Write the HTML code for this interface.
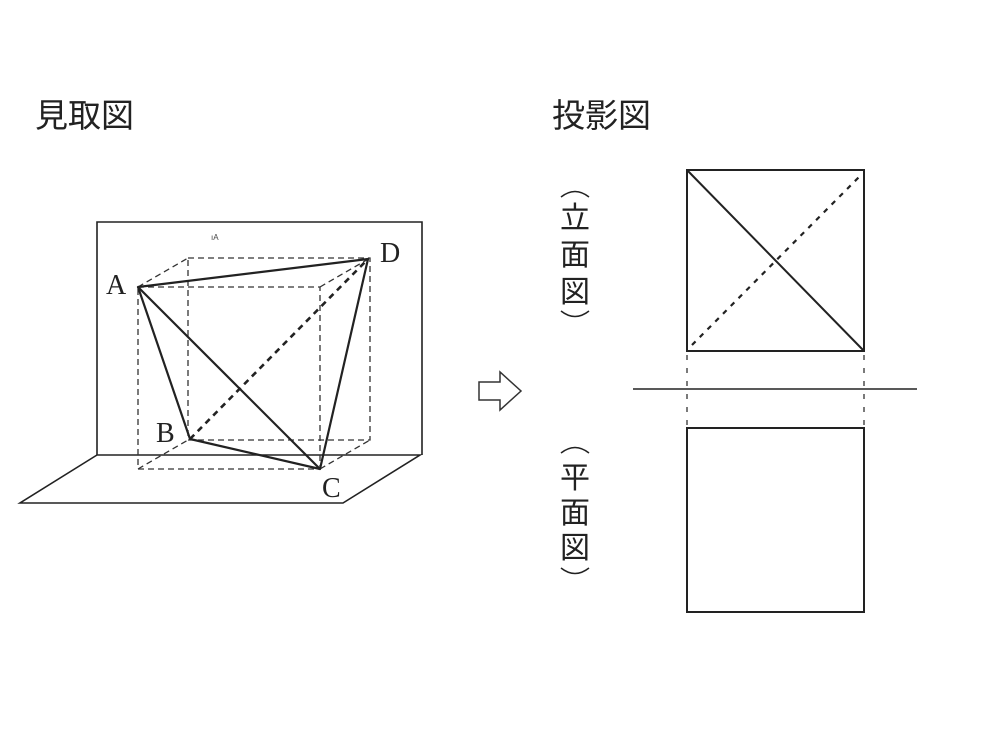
<!DOCTYPE html>
<html><head><meta charset="utf-8"><style>
body{margin:0;background:#fff;}
svg{display:block}
</style></head><body>
<svg width="990" height="730" viewBox="0 0 990 730" xmlns="http://www.w3.org/2000/svg">
<rect width="990" height="730" fill="#fff"/>
<g font-family="'Liberation Sans','Noto Sans CJK JP',sans-serif" font-size="33" fill="#222">
<text x="35" y="127">見取図</text>
<text x="552" y="127">投影図</text>
</g>
<g fill="none" stroke="#222" stroke-width="1.6">
<polyline points="97,455 97,222 422,222 422,455"/>
<polygon points="97,455 420,455 343,503 20,503"/>
</g>
<g fill="none" stroke="#333" stroke-width="1.3" stroke-dasharray="6,4">
<rect x="138" y="287" width="182" height="182"/>
<rect x="188" y="258" width="182" height="182"/>
<line x1="138" y1="287" x2="188" y2="258"/>
<line x1="320" y1="287" x2="370" y2="258"/>
<line x1="138" y1="469" x2="188" y2="440"/>
<line x1="320" y1="469" x2="370" y2="440"/>
</g>
<line x1="190" y1="439" x2="368" y2="259" stroke="#222" stroke-width="2.6" stroke-dasharray="6,5"/>
<g fill="none" stroke="#222" stroke-width="2.2" stroke-linejoin="round">
<polygon points="138,287 368,259 320,469 190,439"/>
<line x1="138" y1="287" x2="320" y2="469"/>
</g>
<g font-family="'Liberation Serif',serif" font-size="28" fill="#222">
<text x="106" y="294">A</text>
<text x="380" y="262">D</text>
<text x="156" y="442">B</text>
<text x="322" y="497">C</text>
</g>
<text x="211" y="240" font-family="'Liberation Sans',sans-serif" font-size="8" fill="#444">ıA</text>
<polygon points="479,382 500,382 500,372 521,391 500,410 500,400 479,400" fill="none" stroke="#333" stroke-width="1.5"/>
<g fill="none" stroke="#222" stroke-width="2">
<rect x="687" y="170" width="177" height="181"/>
<rect x="687" y="428" width="177" height="184"/>
<line x1="687" y1="170" x2="864" y2="351"/>
</g>
<line x1="692" y1="345" x2="860" y2="176" stroke="#222" stroke-width="2.2" stroke-dasharray="5,6"/>
<line x1="633" y1="389" x2="917" y2="389" stroke="#222" stroke-width="1.5"/>
<g stroke="#333" stroke-width="1.3" stroke-dasharray="5,8">
<line x1="687" y1="355" x2="687" y2="426"/>
<line x1="864" y1="355" x2="864" y2="426"/>
</g>
<g font-family="'Liberation Sans','Noto Sans CJK JP',sans-serif" font-size="30" fill="#222" text-anchor="middle">
<text x="575" y="228">立</text>
<text x="575" y="265">面</text>
<text x="575" y="302">図</text>
<text x="575" y="488">平</text>
<text x="575" y="523">面</text>
<text x="575" y="558">図</text>
</g>
<g fill="none" stroke="#222" stroke-width="1.5">
<path d="M561,197 Q575,186 589,197"/>
<path d="M561,311 Q575,322 589,311"/>
<path d="M561,453 Q575,442 589,453"/>
<path d="M561,568 Q575,579 589,568"/>
</g>
</svg>
</body></html>
